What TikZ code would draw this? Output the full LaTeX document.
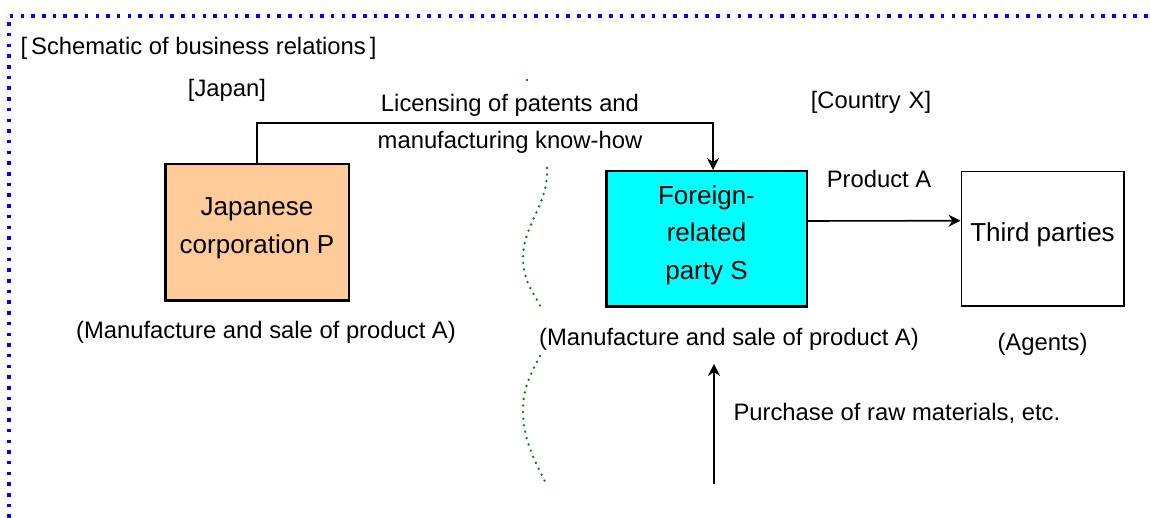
\documentclass[tikz,border=0pt]{standalone}
\usepackage{fontspec}
\setmainfont{Liberation Sans}
\usepackage{xcolor}
\usepackage{tikz}
\usetikzlibrary{positioning}
\usetikzlibrary{arrows.meta}
\definecolor{peach}{RGB}{255,204,153}
\definecolor{brightcyan}{RGB}{0,255,255}
\definecolor{frameblue}{RGB}{0,0,255}
\definecolor{bordergreen}{RGB}{0,128,0}

\begin{document}
\begin{tikzpicture}[x=1pt, y=1pt,
  >={Stealth[length=12pt, width=12pt, inset=4pt]},
  box/.style={draw, line width=2.5pt, align=center, font=\fontsize{26}{37.5}\selectfont},
  lbl/.style={align=center, font=\fontsize{23.8}{37}\selectfont},
  link/.style={line width=1.6pt},
  border/.style={bordergreen, line width=2.6pt, line cap=round, dash pattern=on 0pt off 6.6pt}]
\useasboundingbox (0,0) rectangle (1151,518);
% frame
\draw [frameblue, line width=3.5pt, dash pattern=on 3.5pt off 7.2pt] (9,0) -- (9,502) -- (1151,502);
% headings
\node (title) [lbl, anchor=west] at (17,470) {[\hspace{4pt}Schematic of business relations\hspace{4pt}]};
\node (japan) [lbl] at (227,428) {[Japan]};
\node (country) [lbl] at (871,416) {[Country\hspace{8pt}X]};
% main boxes
\node (P) [box, fill=peach, minimum width=183.5pt, minimum height=136.5pt] at (257,285.5) {Japanese\\corporation P\\[-24pt]\mbox{}};
\node (S) [box, fill=brightcyan, minimum width=200.5pt, minimum height=135.5pt] at (706.5,279) {Foreign-\\related\\party S\\[-24pt]\mbox{}};
\node (T) [box, line width=1.5pt, minimum width=162.5pt, minimum height=134.5pt] at (1042.5,279.3) {Third parties\\[-24pt]\mbox{}};
% labels under boxes
\node (mfgP) [lbl, below=16pt of P, xshift=9pt] {(Manufacture and sale of product A)};
\node (mfgS) [lbl, below=17pt of S, xshift=22.5pt] {(Manufacture and sale of product A)};
\node (agents) [lbl, below=23pt of T] {(Agents)};
% licensing
\node (lictext) [lbl] at (510,394) {Licensing of patents and\\manufacturing know-how};
\coordinate (lic) at (713,395);
\draw [->, link] (P.north) |- (lic) -- (lic |- S.north);
% product
\node (prodA) [lbl] at (879,339) {Product A};
\draw [->, link] ([yshift=18pt]S.east) -- ([yshift=18pt]T.west);
% raw materials
\coordinate (rawin) at (714,34);
\coordinate (rawout) at (714,154);
\draw [->, link] (rawin) -- (rawout);
\node (purchase) [lbl, anchor=west] at (730,105) {Purchase of raw materials, etc.};
% border between countries
\fill [bordergreen] (527,438) circle (1.3pt);
\draw [border] (547,350) .. controls (549,313) and (522,293) .. (523,258) .. controls (524,233) and (536,223) .. (541,210);
\draw [border] (540,162) .. controls (530,143) and (522,128) .. (523,103) .. controls (524,73) and (540,48) .. (547,32);
\end{tikzpicture}
\end{document}
